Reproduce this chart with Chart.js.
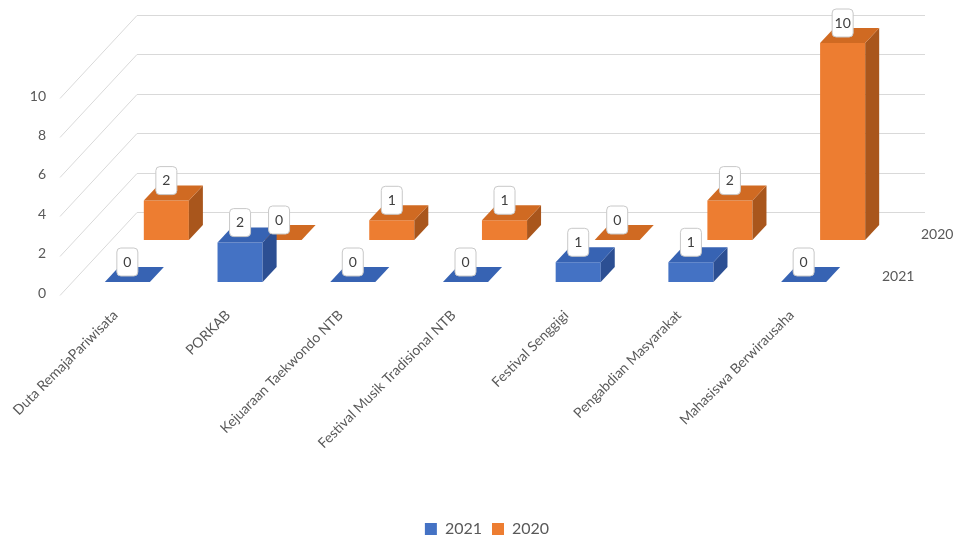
<!DOCTYPE html>
<html>
<head>
<meta charset="utf-8">
<script src="https://cdn.jsdelivr.net/npm/chart.js@4.4.0/dist/chart.umd.min.js"></script>
<style>
  html, body { margin: 0; padding: 0; background: #fff; }
</style>
</head>
<body>
<canvas id="chart" width="957" height="539"></canvas>
<script>
// data
const categories = ['Duta RemajaPariwisata', 'PORKAB', 'Kejuaraan Taekwondo NTB', 'Festival Musik Tradisional NTB', 'Festival Senggigi', 'Pengabdian Masyarakat', 'Mahasiswa Berwirausaha'];
const seriesNames = ['2021', '2020'];
const values2021 = [0, 2, 0, 0, 1, 1, 0];
const values2020 = [2, 0, 1, 1, 0, 2, 10];
const yTicks = [0, 2, 4, 6, 8, 10];

// look of the fake 3d
const frontColors = ['#4472C4', '#ED7D31'];
const topColors = ['#3763B3', '#D06A22'];
const sideColors = ['#2C4F93', '#A9561C'];
const DEPTH_X = 14, DEPTH_Y = -15;      // bar depth
const ROW_DX = [0, 39], ROW_DY = [0, -42]; // 2020 row sits behind 2021
const FONT = 'Lato, "Open Sans", sans-serif';
const TEXT = '#595959';

function drawBlock(ctx, el, i) {
  const w = el.width, l = el.x - w / 2, r = el.x + w / 2;
  const top = Math.min(el.y, el.base), bot = Math.max(el.y, el.base);
  ctx.fillStyle = sideColors[i];
  ctx.beginPath();
  ctx.moveTo(r, top); ctx.lineTo(r + DEPTH_X, top + DEPTH_Y);
  ctx.lineTo(r + DEPTH_X, bot + DEPTH_Y); ctx.lineTo(r, bot);
  ctx.closePath(); ctx.fill();
  ctx.fillStyle = topColors[i];
  ctx.beginPath();
  ctx.moveTo(l, top); ctx.lineTo(r, top);
  ctx.lineTo(r + DEPTH_X, top + DEPTH_Y); ctx.lineTo(l + DEPTH_X, top + DEPTH_Y);
  ctx.closePath(); ctx.fill();
}

function drawValueLabel(ctx, el, text) {
  const top = Math.min(el.y, el.base);
  const bw = 21, bh = 28, bottom = top - 6;
  ctx.beginPath();
  ctx.roundRect(el.x - bw / 2, bottom - bh, bw, bh, 4);
  ctx.fillStyle = '#ffffff';
  ctx.fill();
  ctx.strokeStyle = '#C8C8C8';
  ctx.lineWidth = 1;
  ctx.stroke();
  ctx.fillStyle = '#404040';
  ctx.font = '14px ' + FONT;
  ctx.textAlign = 'center';
  ctx.textBaseline = 'middle';
  ctx.fillText(text, el.x, bottom - bh / 2);
}

const fake3d = {
  id: 'fake3d',
  afterLayout(chart) {
    // move legend to where the reference has it
    const lg = chart.legend;
    const dx = 487 - (lg.left + lg.right) / 2;
    lg.left += dx; lg.right += dx;
    lg.top += 8; lg.bottom += 8;
  },
  beforeDatasetsDraw(chart) {
    const ctx = chart.ctx, area = chart.chartArea, y = chart.scales.y;
    ctx.save();
    ctx.strokeStyle = '#D9D9D9';
    ctx.lineWidth = 1;
    yTicks.forEach(v => {
      const p = Math.round(y.getPixelForValue(v)) + 0.5;
      ctx.beginPath();
      ctx.moveTo(area.left - 11, p + 13);
      ctx.lineTo(area.left + 66, p - 70);
      ctx.lineTo(area.right + 65, p - 70);
      ctx.stroke();
    });
    ctx.restore();
  },
  beforeDatasetDraw(chart, args) {
    chart.ctx.save();
    chart.ctx.translate(ROW_DX[args.index], ROW_DY[args.index]);
  },
  afterDatasetDraw(chart, args) {
    args.meta.data.forEach(el => drawBlock(chart.ctx, el, args.index));
    chart.ctx.restore();
  },
  afterDatasetsDraw(chart) {
    const ctx = chart.ctx, area = chart.chartArea;
    const base = chart.scales.y.getPixelForValue(0);
    [1, 0].forEach(i => {
      const meta = chart.getDatasetMeta(i);
      const vals = chart.data.datasets[i].data;
      ctx.save();
      ctx.translate(ROW_DX[i], ROW_DY[i]);
      meta.data.forEach((el, j) => drawValueLabel(ctx, el, String(vals[j])));
      // depth axis label
      ctx.fillStyle = TEXT;
      ctx.font = '14px ' + FONT;
      ctx.textAlign = 'left';
      ctx.textBaseline = 'middle';
      ctx.fillText(seriesNames[i], area.right + 22, base - 6);
      ctx.restore();
    });
  }
};

new Chart(document.getElementById('chart'), {
  type: 'bar',
  data: {
    labels: categories,
    datasets: [
      { label: seriesNames[0], data: values2021, backgroundColor: frontColors[0], clip: false },
      { label: seriesNames[1], data: values2020, backgroundColor: frontColors[1], clip: false }
    ]
  },
  options: {
    responsive: false,
    animation: false,
    layout: { padding: { left: 0, right: 97, top: 85, bottom: 0 } },
    datasets: {
      bar: { grouped: false, categoryPercentage: 0.8, barPercentage: 0.5, borderWidth: 0 }
    },
    scales: {
      x: {
        grid: { display: false, drawTicks: false },
        border: { display: false },
        ticks: {
          color: TEXT, font: { family: FONT, size: 14 },
          minRotation: 45, maxRotation: 45, autoSkip: false,
          padding: 25, labelOffset: -12
        },
        afterFit(s) { s.height = 221; s.paddingLeft = 0; s.paddingRight = 0; }
      },
      y: {
        min: 0, max: 10,
        grid: { display: false, drawTicks: false },
        border: { display: false },
        ticks: { color: TEXT, font: { family: FONT, size: 14 }, padding: 25, labelOffset: 11 },
        afterBuildTicks(s) { s.ticks = yTicks.map(v => ({ value: v })); },
        afterFit(s) { s.width = 71; s.paddingTop = 0; s.paddingBottom = 0; }
      }
    },
    plugins: {
      legend: {
        position: 'bottom',
        labels: { color: TEXT, font: { family: FONT, size: 16 }, boxWidth: 12, boxHeight: 12, padding: 10 }
      },
      tooltip: { enabled: false }
    }
  },
  plugins: [fake3d]
});
</script>
</body>
</html>
